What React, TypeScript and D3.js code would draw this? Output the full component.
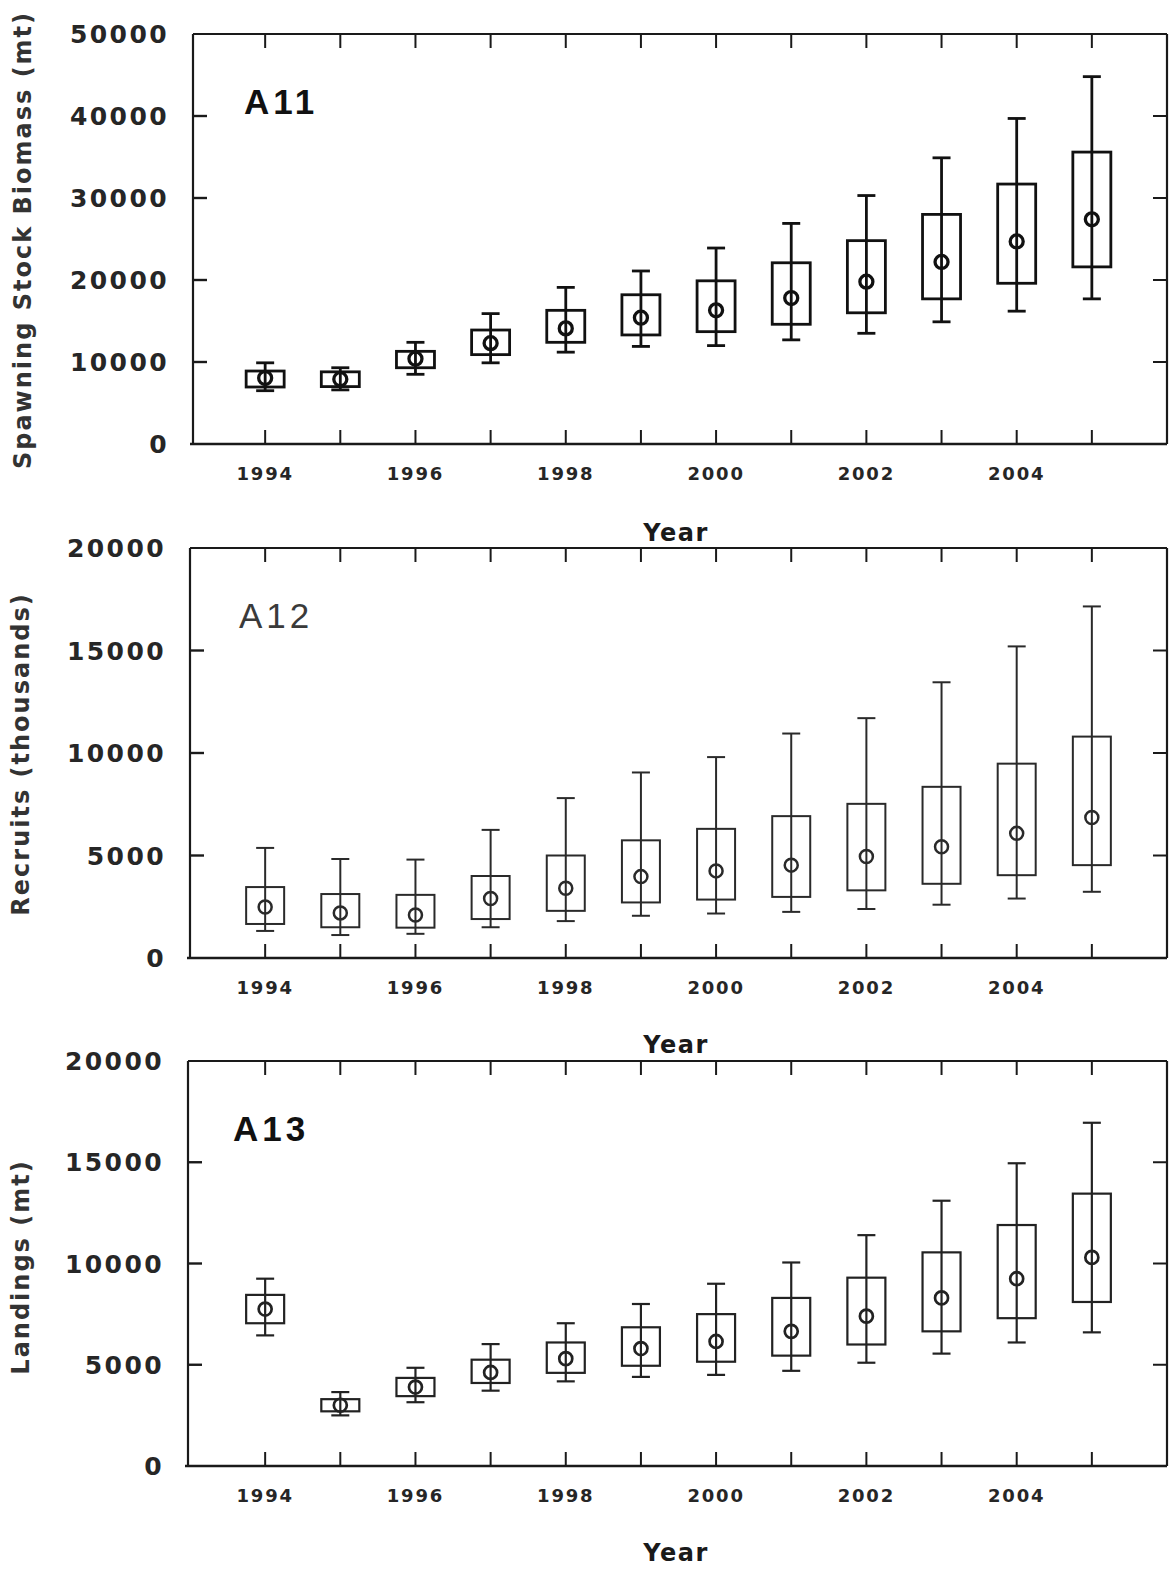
import React from "react";
import * as d3 from "d3";

const years = [1994, 1995, 1996, 1997, 1998, 1999, 2000, 2001, 2002, 2003, 2004, 2005];
const yearLabels = [1994, 1996, 1998, 2000, 2002, 2004];

// A11 Spawning stock biomass (mt)
const a11Median = [8050, 7900, 10400, 12300, 14100, 15400, 16300, 17800, 19800, 22200, 24700, 27400];
const a11Q1 = [6950, 7000, 9300, 10900, 12400, 13300, 13700, 14600, 16000, 17700, 19600, 21600];
const a11Q3 = [8900, 8800, 11300, 13900, 16300, 18200, 19900, 22100, 24800, 28000, 31700, 35600];
const a11Low = [6500, 6600, 8500, 9900, 11200, 11900, 12000, 12700, 13500, 14900, 16200, 17700];
const a11High = [9900, 9300, 12400, 15900, 19100, 21100, 23900, 26900, 30300, 34900, 39700, 44800];
const a11Ticks = [0, 10000, 20000, 30000, 40000, 50000];

// A12 Recruits (thousands)
const a12Median = [2490, 2200, 2100, 2900, 3400, 3970, 4250, 4530, 4950, 5430, 6080, 6850];
const a12Q1 = [1660, 1500, 1480, 1900, 2300, 2710, 2850, 2980, 3300, 3620, 4040, 4530];
const a12Q3 = [3460, 3120, 3080, 4000, 5000, 5740, 6300, 6920, 7520, 8350, 9480, 10800];
const a12Low = [1320, 1120, 1180, 1500, 1800, 2060, 2170, 2250, 2390, 2600, 2900, 3230];
const a12High = [5370, 4830, 4800, 6250, 7800, 9050, 9800, 10950, 11700, 13450, 15200, 17150];
const a12Ticks = [0, 5000, 10000, 15000, 20000];

// A13 Landings (mt)
const a13Median = [7750, 3000, 3900, 4620, 5300, 5800, 6150, 6650, 7400, 8300, 9250, 10300];
const a13Q1 = [7050, 2700, 3450, 4100, 4600, 4950, 5150, 5450, 6000, 6650, 7300, 8100];
const a13Q3 = [8450, 3300, 4350, 5250, 6100, 6850, 7500, 8300, 9300, 10550, 11900, 13450];
const a13Low = [6450, 2500, 3150, 3720, 4180, 4400, 4500, 4700, 5100, 5550, 6100, 6600];
const a13High = [9250, 3650, 4850, 6020, 7050, 8000, 9000, 10050, 11400, 13100, 14950, 16950];
const a13Ticks = [0, 5000, 10000, 15000, 20000];

const NUM_FONT = "'DejaVu Sans', sans-serif";
const LBL_FONT = "'Liberation Sans', Arial, sans-serif";

type PanelProps = {
  top: number;
  bottom: number;
  left: number;
  right: number;
  yMax: number;
  ticks: number[];
  median: number[];
  q1: number[];
  q3: number[];
  low: number[];
  high: number[];
  label: string;
  labelX: number;
  labelWeight: string;
  labelColor: string;
  yTitle: string;
  yTitleX: number;
  yTitleY: number;
  sw: number;
  markColor: string;
  yearTitleY: number;
};

function Panel(p: PanelProps) {
  const x = d3.scaleLinear().domain([1993, 2006]).range([190, 1167]);
  const y = d3.scaleLinear().domain([0, p.yMax]).range([p.bottom, p.top]);
  const tl = 14;
  const bw = 19;
  const cw = 9;
  const frameColor = "#1a1a1a";
  return (
    <g>
      {/* frame */}
      <line x1={p.left} x2={p.left} y1={p.top} y2={p.bottom} stroke={frameColor} strokeWidth={2.2} />
      <line x1={p.left - 3} x2={p.right} y1={p.bottom} y2={p.bottom} stroke={frameColor} strokeWidth={2.4} />
      <line x1={p.left} x2={p.right} y1={p.top} y2={p.top} stroke={frameColor} strokeWidth={2.2} />
      <line x1={p.right} x2={p.right} y1={p.top} y2={p.bottom} stroke={frameColor} strokeWidth={2.2} />
      {/* year ticks */}
      {years.map((yr) => (
        <g key={"t" + yr}>
          <line x1={x(yr)} x2={x(yr)} y1={p.top} y2={p.top + tl} stroke={frameColor} strokeWidth={2} />
          <line x1={x(yr)} x2={x(yr)} y1={p.bottom} y2={p.bottom - tl} stroke={frameColor} strokeWidth={2} />
        </g>
      ))}
      {yearLabels.map((yr) => (
        <text
          key={"yl" + yr}
          x={x(yr)}
          y={p.bottom + 36}
          textAnchor="middle"
          fontFamily={NUM_FONT}
          fontWeight="bold"
          fontSize={18}
          letterSpacing={1.8}
          fill="#262626"
        >
          {yr}
        </text>
      ))}
      {/* y ticks */}
      {p.ticks.map((t) => (
        <g key={"y" + t}>
          {t > 0 && t < p.yMax && (
            <>
              <line x1={p.left} x2={p.left + tl} y1={y(t)} y2={y(t)} stroke={frameColor} strokeWidth={2.4} />
              <line x1={p.right} x2={p.right - tl} y1={y(t)} y2={y(t)} stroke={frameColor} strokeWidth={2} />
            </>
          )}
          <text
            x={p.left - 24}
            y={y(t) + 9}
            textAnchor="end"
            fontFamily={NUM_FONT}
            fontWeight="bold"
            fontSize={25}
            letterSpacing={2.4}
            fill="#262626"
          >
            {t}
          </text>
        </g>
      ))}
      {/* boxes */}
      {years.map((yr, i) => {
        const cx = x(yr);
        return (
          <g key={"b" + yr} stroke={p.markColor} strokeWidth={p.sw} fill="none">
            <line x1={cx} x2={cx} y1={y(p.low[i])} y2={y(p.high[i])} />
            <line x1={cx - cw} x2={cx + cw} y1={y(p.low[i])} y2={y(p.low[i])} />
            <line x1={cx - cw} x2={cx + cw} y1={y(p.high[i])} y2={y(p.high[i])} />
            <rect x={cx - bw} y={y(p.q3[i])} width={bw * 2} height={y(p.q1[i]) - y(p.q3[i])} />
            <circle cx={cx} cy={y(p.median[i])} r={6.5} strokeWidth={p.sw + 0.5} />
          </g>
        );
      })}
      {/* panel label */}
      <text
        x={p.labelX}
        y={p.top + 80}
        fontFamily={LBL_FONT}
        fontWeight={p.labelWeight}
        fontSize={35}
        letterSpacing={4}
        fill={p.labelColor}
      >
        {p.label}
      </text>
      {/* y title */}
      <text
        transform={`translate(${p.yTitleX},${p.yTitleY}) rotate(-90)`}
        textAnchor="middle"
        fontFamily={NUM_FONT}
        fontWeight="bold"
        fontSize={24}
        letterSpacing={2}
        fill="#333"
      >
        {p.yTitle}
      </text>
      {/* x title */}
      <text
        x={676}
        y={p.yearTitleY}
        textAnchor="middle"
        fontFamily={NUM_FONT}
        fontWeight="bold"
        fontSize={24}
        letterSpacing={1.5}
        fill="#1a1a1a"
      >
        Year
      </text>
    </g>
  );
}

export default function App() {
  return (
    <svg
      width={1170}
      height={1571}
      style={{ position: "absolute", left: 0, top: 0, background: "#fff" }}
    >
      <rect x={0} y={0} width={1170} height={1571} fill="#fff" />
      <Panel
        top={34}
        bottom={444}
        left={193}
        right={1167}
        yMax={50000}
        ticks={a11Ticks}
        median={a11Median}
        q1={a11Q1}
        q3={a11Q3}
        low={a11Low}
        high={a11High}
        label="A11"
        labelX={244}
        labelWeight="bold"
        labelColor="#111"
        yTitle="Spawning Stock Biomass (mt)"
        yTitleX={31}
        yTitleY={240}
        sw={2.8}
        markColor="#111"
        yearTitleY={541}
      />
      <Panel
        top={548}
        bottom={958}
        left={190}
        right={1167}
        yMax={20000}
        ticks={a12Ticks}
        median={a12Median}
        q1={a12Q1}
        q3={a12Q3}
        low={a12Low}
        high={a12High}
        label="A12"
        labelX={239}
        labelWeight="normal"
        labelColor="#3a3a3a"
        yTitle="Recruits (thousands)"
        yTitleX={29}
        yTitleY={754}
        sw={2}
        markColor="#2a2a2a"
        yearTitleY={1053}
      />
      <Panel
        top={1061}
        bottom={1466}
        left={188}
        right={1167}
        yMax={20000}
        ticks={a13Ticks}
        median={a13Median}
        q1={a13Q1}
        q3={a13Q3}
        low={a13Low}
        high={a13High}
        label="A13"
        labelX={233}
        labelWeight="bold"
        labelColor="#111"
        yTitle="Landings (mt)"
        yTitleX={29}
        yTitleY={1267}
        sw={2.2}
        markColor="#222"
        yearTitleY={1561}
      />
    </svg>
  );
}
